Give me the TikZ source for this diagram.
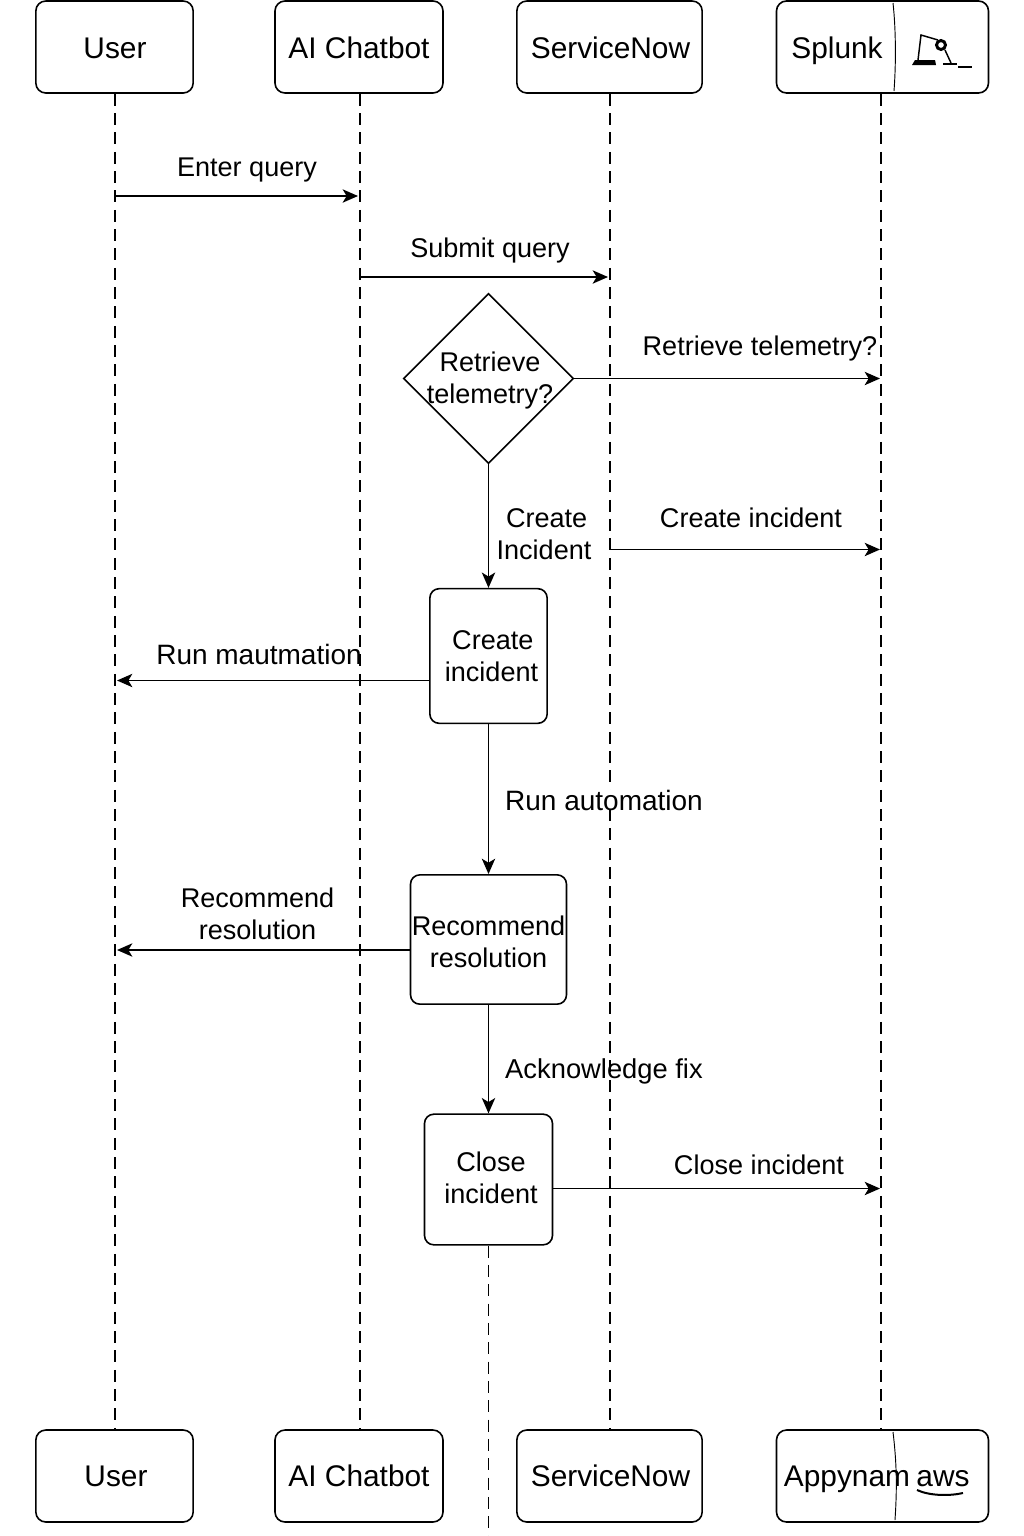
\documentclass[tikz,border=0pt]{standalone}
\usepackage{fontspec}
\setmainfont{Liberation Sans}
\usetikzlibrary{arrows.meta,shapes.geometric}
\tikzset{
  x=0.75pt,y=-0.75pt,
  actor/.style={draw=black,line width=1.2pt,rounded corners=7.5pt,minimum height=69pt,inner sep=0pt,font=\fontsize{22.4}{26}\selectfont},
  proc/.style={draw=black,line width=1.2pt,rounded corners=7pt,inner sep=0pt,align=center,font=\fontsize{20.3}{24}\selectfont},
  decide/.style={draw=black,line width=1.2pt,diamond,aspect=1,inner sep=0pt,outer sep=0pt,minimum width=127pt,minimum height=127pt},
  lbl/.style={inner sep=0pt,align=center,font=\fontsize{20.3}{24}\selectfont},
  life/.style={line width=1.2pt,dash pattern=on 9pt off 5.5pt},
  msg/.style={line width=1.2pt,-{Stealth[length=11.5pt,width=10pt,inset=3pt]}},
  divider/.style={line width=0.7pt},
  glyph/.style={line width=1.1pt},
  atxt/.style={inner sep=0pt,anchor=base,font=\fontsize{22.4}{26}\selectfont},
}
\begin{document}
\begin{tikzpicture}
\useasboundingbox (0,0) rectangle (1024,1536);
% actors
\node[actor,minimum width=118pt] (u1) at (114.5,47) {};
\node[actor,minimum width=126pt] (a1) at (359,47) {};
\node[actor,minimum width=139pt] (s1) at (609.5,47) {};
\node[actor,minimum width=159pt] (k1) at (882.5,47) {};
\node[actor,minimum width=118pt] (u2) at (114.5,1476) {};
\node[actor,minimum width=126pt] (a2) at (359,1476) {};
\node[actor,minimum width=139pt] (s2) at (609.5,1476) {};
\node[actor,minimum width=159pt] (k2) at (882.5,1476) {};
\node[atxt] (t1) at (115,58) {User};
\node[atxt] (t2) at (359,58) {AI Chatbot};
\node[atxt] (t3) at (610.5,58) {ServiceNow};
\node[atxt] (kt1) at (837,58) {Splunk};
\node[atxt] (t4) at (116,1486) {User};
\node[atxt] (t5) at (359,1486) {AI Chatbot};
\node[atxt] (t6) at (610.5,1486) {ServiceNow};
\node[atxt] (kt2) at (847,1486) {Appynam};
\node[atxt] (aws) at (943,1486) {aws};
% lifelines
\draw[life] (u1.south -| 115,0) -- (u2.north -| 115,0);
\draw[life] (a1.south -| 360,0) -- (a2.north -| 360,0);
\draw[life] (s1.south -| 610,0) -- (s2.north -| 610,0);
\draw[life] (k1.south -| 881,0) -- (k2.north -| 881,0);
% dividers and icon
\draw[divider] (893,3) .. controls (896,30) and (896,65) .. (894,91);
\draw[divider] (893,1432) .. controls (897,1465) and (897,1490) .. (895,1520);
\fill (912,65) -- (915,60) -- (935,60) -- (936,65) -- cycle;
\draw[glyph] (918,60) -- (921,35) -- (938,40);
\draw[line width=2.2pt] (941,45) circle (4.5);
\draw[glyph] (945,50) -- (951,63);
\draw[line width=1.5pt] (943,64) -- (957,64) (958,67) -- (972,67);
\draw[line width=1.5pt] (917,1490) .. controls (930,1496) and (950,1496) .. (963,1493);
% process shapes
\node[decide] (d) at (488.5,378.5) {};
\node[lbl] (dt) at (490,380) {Retrieve\\telemetry?};
\node[proc,minimum width=88pt,minimum height=101pt] (ci) at (488.5,656) {};
\node[lbl] (cit) at (491.5,656) {\hspace*{2pt}Create\\incident};
\node[proc,minimum width=117pt,minimum height=97pt] (rr) at (488.5,939.5) {};
\node[lbl] (rrt) at (488.5,941.5) {Recommend\\resolution};
\node[proc,minimum width=96pt,minimum height=98pt] (cl) at (488.5,1179.5) {};
\node[lbl] (clt) at (491,1178) {Close\\incident};
% coordinates on lifelines
\coordinate (e1) at (115,196); \coordinate (e2) at (358,196);
\coordinate (e3) at (360,277); \coordinate (e4) at (608,277);
\coordinate (e5) at (880,378.5);
\coordinate (e6) at (610,549.5); \coordinate (e7) at (880,549.5);
\coordinate (e8) at (117,680.5);
\coordinate (e9) at (117,950);
\coordinate (e10) at (880,1188.5);
\coordinate (bot) at (488.5,1536);
% messages
\draw[msg] (e1) -- (e2);
\draw[msg] (e3) -- (e4);
\draw[msg] (d.east) -- (e5);
\draw[msg] (e6) -- (e7);
\draw[msg] (ci.west |- e8) -- (e8);
\draw[msg] (rr.west |- e9) -- (e9);
\draw[msg] (cl.east |- e10) -- (e10);
\draw[msg] (d.south) -- (ci.north);
\draw[msg] (ci.south) -- (rr.north);
\draw[msg] (rr.south) -- (cl.north);
\draw[life] (cl.south) -- (bot);
% labels
\node[lbl] (l1) at (247,170) {Enter query};
\node[lbl] (l2) at (490,250) {Submit query};
\node[lbl] (l3) at (760,348.5) {Retrieve telemetry?};
\node[lbl] (l4) at (544,534) {\hspace*{4pt}Create\\Incident};
\node[lbl] (l5) at (751,518) {Create incident};
\node[lbl,font=\fontsize{21}{24}\selectfont] (l6) at (259,654.5) {Run mautmation};
\node[lbl,fill=white,inner xsep=1pt,font=\fontsize{21}{24}\selectfont] (l7) at (604,800) {Run automation};
\node[lbl] (l8) at (257.5,913.5) {Recommend\\resolution};
\node[lbl,font=\fontsize{20.5}{24}\selectfont] (l9) at (604,1071) {Acknowledge fix};
\node[lbl] (l10) at (759,1165) {Close incident};
\end{tikzpicture}
\end{document}
